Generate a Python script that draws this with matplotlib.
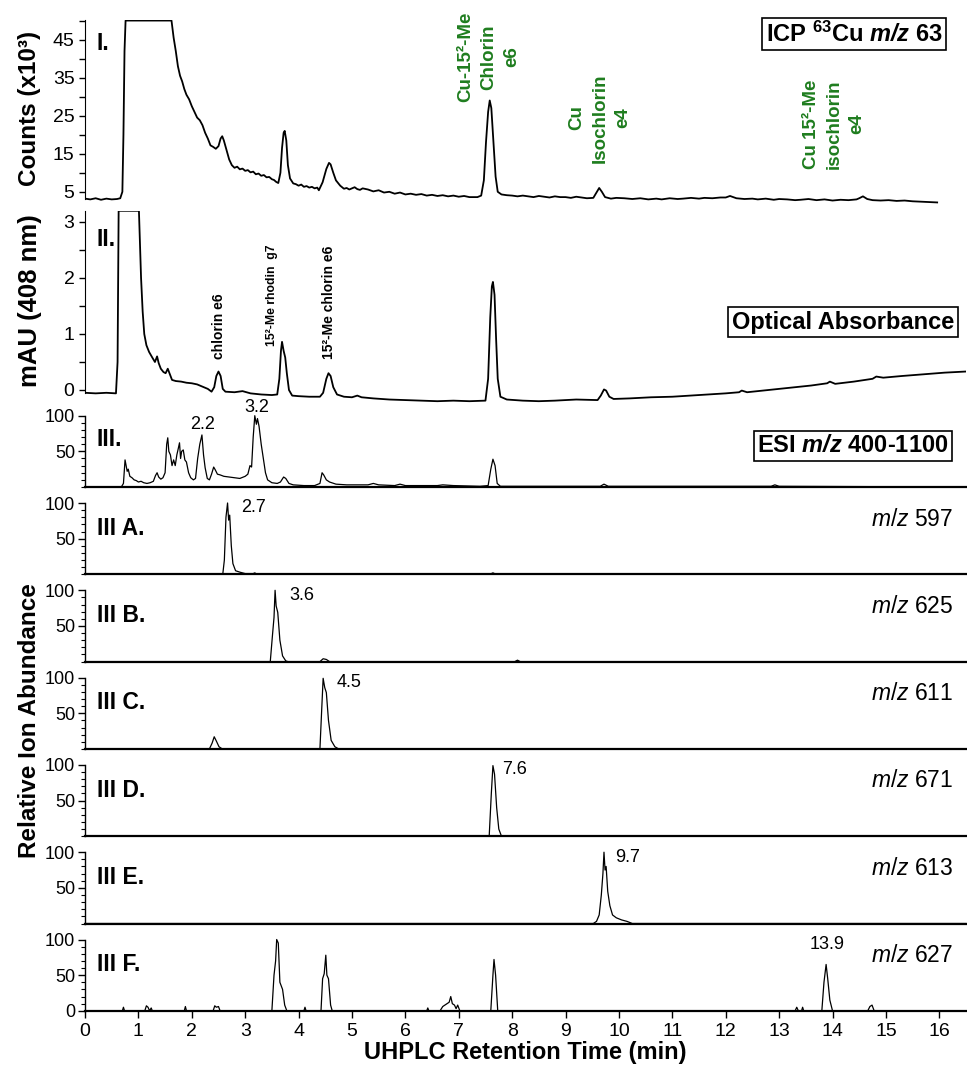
import matplotlib
matplotlib.use("Agg")
import matplotlib.pyplot as plt
import numpy as np

# fontes: Arial -> Liberation Sans
plt.rcParams['font.family'] = ['Liberation Sans', 'DejaVu Sans']
plt.rcParams['mathtext.fontset'] = 'custom'
plt.rcParams['mathtext.rm'] = 'Liberation Sans'
plt.rcParams['mathtext.it'] = 'Liberation Sans:italic'
plt.rcParams['mathtext.bf'] = 'Liberation Sans:bold'
plt.rcParams['mathtext.bfit'] = 'Liberation Sans:bold:italic'

# ---- dados ----
# I. ICP 63Cu
icp_t = [0.00, 0.10, 0.20, 0.30, 0.40, 0.50, 0.60, 0.66, 0.70, 0.72, 0.74, 0.76, 1.62, 1.66, 1.70,
         1.74, 1.78, 1.82, 1.86, 1.90, 1.95, 2.00, 2.05, 2.10, 2.15, 2.20, 2.25, 2.30, 2.35, 2.40,
         2.45, 2.50, 2.54, 2.57, 2.60, 2.65, 2.70, 2.75, 2.80, 2.85, 2.90, 2.95, 3.00, 3.05, 3.10,
         3.15, 3.20, 3.25, 3.30, 3.35, 3.40, 3.45, 3.50, 3.54, 3.58, 3.62, 3.66, 3.69, 3.72, 3.74,
         3.77, 3.80, 3.84, 3.90, 3.95, 4.00, 4.05, 4.10, 4.15, 4.20, 4.25, 4.30, 4.35, 4.38, 4.45,
         4.52, 4.57, 4.60, 4.65, 4.70, 4.78, 4.85, 4.90, 4.95, 5.00, 5.05, 5.10, 5.15, 5.20, 5.30,
         5.40, 5.50, 5.60, 5.70, 5.80, 5.90, 6.00, 6.10, 6.20, 6.30, 6.40, 6.50, 6.60, 6.70, 6.80,
         6.90, 7.00, 7.10, 7.20, 7.35, 7.42, 7.47, 7.51, 7.55, 7.58, 7.61, 7.65, 7.69, 7.73, 7.80,
         7.90, 8.00, 8.10, 8.20, 8.30, 8.40, 8.50, 8.60, 8.70, 8.80, 8.90, 9.00, 9.10, 9.20, 9.30,
         9.40, 9.52, 9.58, 9.63, 9.68, 9.74, 9.85, 9.95, 10.10, 10.25, 10.40, 10.55, 10.70, 10.80,
         10.95, 11.10, 11.20, 11.35, 11.50, 11.60, 11.75, 11.90, 12.00, 12.08, 12.20, 12.35, 12.50,
         12.60, 12.75, 12.90, 13.00, 13.15, 13.30, 13.40, 13.55, 13.70, 13.85, 14.00, 14.15, 14.30,
         14.45, 14.50, 14.57, 14.65, 14.75, 14.90, 15.05, 15.20, 15.35, 15.50, 15.65, 15.80, 15.96]
icp_counts = [3.2, 3.0, 3.3, 2.9, 3.2, 3.0, 3.1, 3.3, 5.0, 20.0, 42.0, 50.0, 50.0, 45.5, 42.0,
              38.0, 35.5, 34.0, 32.0, 30.5, 29.3, 27.5, 26.0, 24.5, 23.8, 22.5, 20.5, 19.0, 17.2, 16.8,
              16.3, 17.0, 19.0, 19.6, 18.5, 16.0, 13.5, 12.0, 11.3, 11.6, 10.9, 11.1, 10.5, 10.7, 10.1,
              10.3, 9.6, 9.8, 9.2, 9.4, 8.8, 8.9, 8.3, 8.1, 7.6, 7.3, 10.0, 16.5, 20.5, 21.0,
              18.5, 12.0, 8.5, 7.2, 7.0, 6.6, 6.9, 6.3, 6.5, 6.1, 6.3, 5.9, 6.1, 5.4, 7.5,
              11.0, 12.6, 12.2, 10.0, 8.0, 6.6, 5.8, 6.0, 5.6, 5.9, 6.2, 5.7, 5.5, 5.9, 5.6,
              5.1, 5.4, 4.8, 5.0, 4.5, 4.8, 4.3, 4.5, 4.2, 4.4, 4.0, 4.2, 3.9, 4.1, 3.8,
              4.0, 3.7, 3.9, 3.6, 3.6, 4.0, 8.0, 18.0, 26.0, 29.0, 27.0, 18.0, 9.0, 5.0, 4.3,
              4.1, 4.0, 3.8, 4.0, 3.8, 3.6, 3.9, 3.7, 3.5, 3.8, 3.6, 3.6, 3.4, 3.7, 3.5,
              3.3, 3.4, 4.8, 6.0, 5.0, 3.6, 3.2, 3.4, 3.3, 3.1, 3.3, 3.0, 3.2, 3.0,
              3.3, 3.1, 3.2, 3.4, 3.2, 3.4, 3.3, 3.5, 3.5, 3.9, 3.3, 3.1, 3.2,
              3.0, 3.2, 2.9, 3.1, 3.0, 2.8, 2.9, 3.1, 2.8, 3.0, 2.7, 2.9, 2.8,
              3.0, 3.3, 3.8, 3.1, 2.8, 2.7, 2.8, 2.6, 2.7, 2.5, 2.4, 2.3, 2.2]

# II. absorbancia 408 nm
abs_t = [0.00, 0.20, 0.40, 0.58, 0.61, 0.63, 1.01, 1.05, 1.08, 1.11, 1.15, 1.20, 1.26, 1.31, 1.35,
         1.38, 1.42, 1.47, 1.51, 1.55, 1.59, 1.63, 1.70, 1.80, 1.90, 2.00, 2.10, 2.20, 2.30, 2.37,
         2.42, 2.46, 2.50, 2.54, 2.58, 2.63, 2.80, 2.95, 3.10, 3.30, 3.50, 3.60, 3.64, 3.67, 3.69,
         3.72, 3.75, 3.78, 3.82, 3.88, 4.00, 4.20, 4.40, 4.46, 4.52, 4.56, 4.60, 4.65, 4.72, 4.85,
         5.00, 5.10, 5.18, 5.40, 5.70, 6.00, 6.30, 6.60, 6.90, 7.20, 7.50, 7.55, 7.59, 7.62, 7.64,
         7.67, 7.70, 7.73, 7.78, 7.90, 8.20, 8.50, 8.80, 9.20, 9.60, 9.66, 9.72, 9.76, 9.82, 9.90,
         10.20, 10.60, 11.00, 11.50, 12.00, 12.25, 12.30, 12.40, 12.80, 13.20, 13.60, 13.90, 13.95,
         14.05, 14.40, 14.75, 14.82, 14.95, 15.30, 15.70, 16.10, 16.50]
abs_mau = [-0.05, -0.06, -0.05, -0.06, 0.5, 3.2, 3.2, 2.0, 1.4, 1.0, 0.8, 0.68, 0.58, 0.5, 0.6,
           0.48, 0.38, 0.32, 0.30, 0.38, 0.28, 0.18, 0.16, 0.15, 0.13, 0.12, 0.10, 0.06, 0.02, -0.03,
           0.05, 0.25, 0.33, 0.25, 0.02, -0.03, -0.04, -0.02, -0.06, -0.08, -0.09, -0.08, 0.2, 0.7, 0.86,
           0.7, 0.58, 0.3, 0.0, -0.1, -0.11, -0.12, -0.12, -0.05, 0.2, 0.30, 0.25, 0.05, -0.08, -0.12,
           -0.13, -0.10, -0.13, -0.15, -0.17, -0.18, -0.19, -0.20, -0.19, -0.20, -0.19, 0.2, 1.3, 1.85, 1.93,
           1.7, 0.9, 0.2, -0.12, -0.17, -0.19, -0.20, -0.19, -0.17, -0.18, -0.10, 0.01, -0.01, -0.12, -0.16,
           -0.15, -0.13, -0.12, -0.09, -0.06, -0.04, -0.01, -0.04, 0.00, 0.04, 0.08, 0.12, 0.15,
           0.11, 0.15, 0.20, 0.24, 0.22, 0.25, 0.28, 0.31, 0.33]

# III. ESI m/z 400-1100 (TIC)
esi_t = [0.00, 0.68, 0.72, 0.75, 0.77, 0.79, 0.81, 0.84, 0.88, 0.92, 0.96, 1.00, 1.05, 1.10, 1.16,
         1.22, 1.28, 1.32, 1.35, 1.38, 1.42, 1.46, 1.50, 1.53, 1.55, 1.57, 1.60, 1.63, 1.66, 1.69,
         1.72, 1.75, 1.77, 1.79, 1.81, 1.84, 1.87, 1.90, 1.94, 1.98, 2.03, 2.07, 2.11, 2.15, 2.19,
         2.22, 2.25, 2.29, 2.33, 2.37, 2.41, 2.44, 2.48, 2.53, 2.60, 2.70, 2.80, 2.90, 3.00, 3.05,
         3.09, 3.12, 3.15, 3.18, 3.21, 3.23, 3.26, 3.30, 3.34, 3.38, 3.42, 3.50, 3.60, 3.66, 3.72,
         3.76, 3.82, 3.90, 4.10, 4.30, 4.40, 4.44, 4.47, 4.52, 4.58, 4.70, 4.90, 5.10, 5.30, 5.40,
         5.50, 5.80, 5.90, 6.00, 6.60, 6.70, 6.90, 7.40, 7.55, 7.60, 7.64, 7.68, 7.72, 7.78, 8.20,
         8.60, 9.65, 9.72, 9.80, 12.85, 12.92, 13.00, 16.50]
esi_ab = [0, 0, 5, 38, 30, 22, 25, 15, 13, 10, 9, 7, 8, 6, 5,
          6, 8, 16, 20, 14, 11, 13, 20, 60, 69, 50, 45, 30, 38, 30,
          45, 55, 62, 40, 50, 52, 38, 35, 20, 13, 10, 12, 40, 60, 73,
          45, 27, 12, 10, 18, 28, 24, 18, 17, 15, 14, 13, 12, 15, 18,
          30, 28, 70, 100, 88, 96, 85, 60, 40, 20, 10, 6, 5, 7, 14,
          12, 5, 3, 2, 2, 5, 20, 17, 10, 7, 4, 3, 3, 3, 5,
          3, 2, 4, 2, 2, 3, 2, 1, 2, 25, 39, 30, 5, 1, 1,
          1, 1, 4, 1, 1, 3, 1, 0]

# III A-F: ions extraidos
mz597_t = [0.0, 2.58, 2.61, 2.64, 2.67, 2.69, 2.71, 2.74, 2.77, 2.82, 2.90, 3.00, 3.15, 3.18, 3.22,
           7.58, 7.64, 7.70, 16.5]
mz597_ab = [0, 0, 20, 80, 100, 76, 83, 40, 15, 5, 3, 1, 1, 2, 0, 0, 2, 0, 0]

mz625_t = [0.0, 3.47, 3.51, 3.54, 3.56, 3.58, 3.61, 3.65, 3.70, 3.76, 3.80, 4.40, 4.46, 4.52, 4.58,
           8.05, 8.10, 8.15, 16.5]
mz625_ab = [0, 0, 36, 62, 100, 78, 69, 30, 8, 1, 0, 0, 4, 3, 0, 0, 2, 0, 0]

mz611_t = [0.0, 2.33, 2.38, 2.42, 2.46, 2.51, 2.57, 4.40, 4.43, 4.46, 4.49, 4.52, 4.56, 4.61, 4.68,
           4.75, 16.5]
mz611_ab = [0, 0, 8, 17, 11, 3, 0, 0, 50, 99, 86, 79, 40, 12, 3, 0, 0]

mz671_t = [0.0, 7.57, 7.61, 7.64, 7.67, 7.71, 7.75, 7.80, 16.5]
mz671_ab = [0, 0, 60, 99, 87, 40, 10, 0, 0]

mz613_t = [0.0, 9.52, 9.58, 9.63, 9.67, 9.70, 9.72, 9.74, 9.76, 9.79, 9.83, 9.88, 9.95, 10.05, 10.15,
           10.25, 16.5]
mz613_ab = [0, 0, 3, 12, 40, 70, 100, 75, 80, 45, 25, 12, 8, 5, 3, 0, 0]

mz627_t = [0.0, 0.70, 0.72, 0.74, 1.12, 1.15, 1.18, 1.21, 1.24, 1.26, 1.86, 1.88, 1.90, 2.40, 2.43,
           2.46, 2.50, 2.53, 3.50, 3.54, 3.57, 3.59, 3.62, 3.65, 3.70, 3.74, 3.78, 4.10, 4.12, 4.14,
           4.42, 4.45, 4.48, 4.51, 4.53, 4.56, 4.60, 4.63, 6.40, 6.42, 6.44, 6.65, 6.70, 6.74, 6.78,
           6.82, 6.85, 6.88, 6.92, 6.95, 6.98, 7.02, 7.60, 7.64, 7.66, 7.69, 7.73, 13.30, 13.33, 13.36,
           13.42, 13.44, 13.46, 13.80, 13.84, 13.88, 13.91, 13.95, 14.00, 14.66, 14.70, 14.74, 14.78, 16.5]
mz627_ab = [0, 0, 5, 0, 0, 7, 5, 0, 4, 0, 0, 6, 0, 0, 7,
            5, 6, 0, 0, 50, 70, 100, 95, 40, 30, 8, 0, 0, 5, 0,
            0, 45, 52, 78, 50, 45, 8, 0, 0, 4, 0, 0, 6, 8, 10,
            12, 20, 10, 8, 3, 8, 0, 0, 50, 72, 50, 0, 0, 5, 0,
            0, 5, 0, 0, 40, 65, 45, 15, 0, 0, 6, 8, 0, 0]

ion_series = [(mz597_t, mz597_ab), (mz625_t, mz625_ab), (mz611_t, mz611_ab),
              (mz671_t, mz671_ab), (mz613_t, mz613_ab), (mz627_t, mz627_ab)]
ion_names = ['III A.', 'III B.', 'III C.', 'III D.', 'III E.', 'III F.']
ion_mz = ['597', '625', '611', '671', '613', '627']
ion_peaks = [2.7, 3.6, 4.5, 7.6, 9.7, 13.9]

# ---- layout em pixels ----
W, H = 967, 1070
fig = plt.figure(figsize=(W / 100, H / 100), dpi=100)
X0, X1 = 85, 966


def rect(top, bottom):
    return [X0 / W, 1 - bottom / H, (X1 - X0) / W, (bottom - top) / H]


def ftxt(x, y, s, **kw):
    return fig.text(x / W, 1 - y / H, s, **kw)


xmax = 16.5
box = dict(boxstyle='square,pad=0.15', fc='white', ec='black', lw=1.2)
green = '#1f7d1f'

# Painel I
ax1 = fig.add_axes(rect(19.8, 205.1))
ax1.plot(icp_t, icp_counts, color='black', lw=1.3)
ax1.set_xlim(0, xmax)
ax1.set_ylim(1.5, 50.2)
ax1.set_yticks([5, 15, 25, 35, 45])
ax1.set_yticks([10, 20, 30, 40, 50], minor=True)
ax1.spines['left'].set_bounds(3, 50.2)

# Painel II
ax2 = fig.add_axes(rect(210.8, 404))
ax2.plot(abs_t, abs_mau, color='black', lw=1.3)
ax2.set_xlim(0, xmax)
ax2.set_ylim(-0.25, 3.2)
ax2.set_yticks([0, 1, 2, 3])
ax2.set_yticks([0.5, 1.5, 2.5], minor=True)
ax2.spines['left'].set_bounds(-0.05, 3.2)

for ax in (ax1, ax2):
    for s in ('top', 'right', 'bottom'):
        ax.spines[s].set_visible(False)
    ax.tick_params(axis='y', which='both', direction='out', length=4, width=1, labelsize=14)
    ax.tick_params(axis='x', bottom=False, labelbottom=False)

# Paineis III
ion_axes = []
all_series = [(esi_t, esi_ab)] + ion_series
for k, (tt, yy) in enumerate(all_series):
    y0 = 487 + 87.3 * k
    ax = fig.add_axes(rect(y0 - 71.3, y0))
    ax.plot(tt, yy, color='black', lw=0.9, clip_on=False)
    ax.set_xlim(0, xmax)
    ax.set_ylim(0, 100)
    for s in ('top', 'right'):
        ax.spines[s].set_visible(False)
    ax.spines['bottom'].set_linewidth(1.6)
    ax.spines['left'].set_linewidth(1.0)
    ax.set_yticks([50, 100] if k < 6 else [0, 50, 100])
    ax.set_yticks(np.arange(0, 101, 10), minor=True)
    ax.tick_params(axis='y', which='major', direction='out', length=5, width=1, labelsize=13, pad=2)
    ax.tick_params(axis='y', which='minor', direction='out', length=3, width=0.8)
    if k < 6:
        ax.tick_params(axis='x', bottom=False, labelbottom=False)
    else:
        ax.set_xticks(range(0, 17))
        ax.tick_params(axis='x', direction='out', length=5, width=1, labelsize=14)
        ax.set_xlabel('UHPLC Retention Time (min)', fontsize=17, fontweight='bold', labelpad=1)
    ion_axes.append(ax)

# rotulos dos eixos y
ftxt(30, 108, 'Counts (x10³)', rotation=90, ha='center', va='center', fontsize=17.5, fontweight='bold')
ftxt(30, 301, 'mAU (408 nm)', rotation=90, ha='center', va='center', fontsize=18.5, fontweight='bold')
ftxt(30, 721, 'Relative Ion Abundance', rotation=90, ha='center', va='center', fontsize=17.5,
     fontweight='bold')

# rotulos dos paineis
ftxt(97, 44, 'I.', fontsize=16.5, fontweight='bold', va='center')
ftxt(97, 239, 'II.', fontsize=16.5, fontweight='bold', va='center')
ftxt(97, 440, 'III.', fontsize=16.5, fontweight='bold', va='center')
for k in range(6):
    y0 = 487 + 87.3 * (k + 1)
    ftxt(97, y0 - 46, ion_names[k], fontsize=16.5, fontweight='bold', va='center')
    ftxt(953, y0 - 71.3 + 16, r'$\mathit{m/z}$ ' + ion_mz[k], fontsize=16.5, ha='right', va='center')
    ax = ion_axes[k + 1]
    ax.text(ion_peaks[k] + (0.22 if k < 5 else 0.0), 93, f'{ion_peaks[k]:.1f}', fontsize=13,
            ha='left' if k < 5 else 'center', va='center', transform=ax.transData)

# anotacoes painel III
ion_axes[0].text(2.2, 88, '2.2', fontsize=13, ha='center', va='center')
ion_axes[0].text(3.22, 112, '3.2', fontsize=13, ha='center', va='center', clip_on=False)

# caixas
ftxt(854, 34, r'ICP $^{\mathbf{63}}$Cu $\mathbfit{m/z}$ 63', fontsize=17, fontweight='bold',
     ha='center', va='center', bbox=box)
ftxt(843, 322, 'Optical Absorbance', fontsize=17, fontweight='bold', ha='center', va='center', bbox=box)
ftxt(853, 446, r'ESI $\mathbfit{m/z}$ 400-1100', fontsize=17, fontweight='bold', ha='center',
     va='center', bbox=box)

# rotulos verdes (Cu)
ftxt(489, 57, 'Cu-15²-Me\nChlorin\ne6', rotation=90, color=green, fontsize=13.5, fontweight='bold',
     ha='center', va='center', multialignment='center', linespacing=1.45)
ftxt(600, 118, 'Cu\nIsochlorin\ne4', rotation=90, color=green, fontsize=13.5, fontweight='bold',
     ha='center', va='center', multialignment='center', linespacing=1.45)
ftxt(834, 124, 'Cu 15²-Me\nisochlorin\ne4', rotation=90, color=green, fontsize=13.5, fontweight='bold',
     ha='center', va='center', multialignment='center', linespacing=1.45)

# rotulos pretos painel II
ftxt(219, 326, 'chlorin e6', rotation=90, fontsize=10, fontweight='bold', ha='center', va='center')
ftxt(272, 295, '15²-Me rhodin  g7', rotation=90, fontsize=8.8, fontweight='bold', ha='center', va='center')
ftxt(329, 302, '15²-Me chlorin e6', rotation=90, fontsize=10, fontweight='bold', ha='center', va='center')

fig.savefig('out.png', dpi=100)
